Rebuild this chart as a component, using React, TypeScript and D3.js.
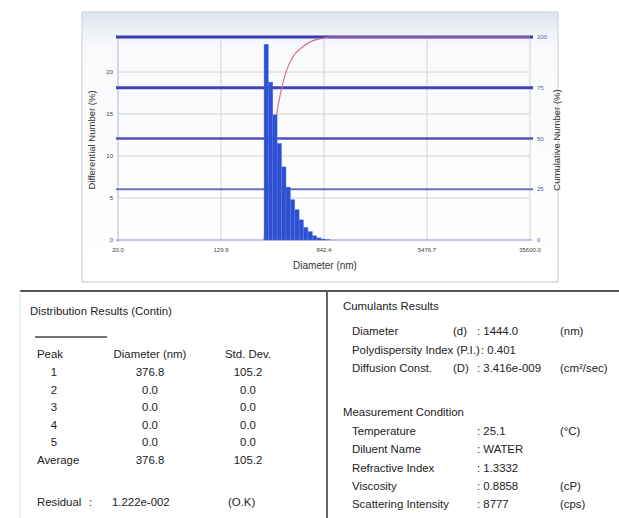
import React from 'react';
import * as d3 from 'd3';

// size distribution bins (left edges, nm) and differential number (%)
const binEdges = [284, 307, 333, 360, 390, 423, 458, 496, 537, 581, 630, 682, 739, 800, 866, 938];
const diffNumber = [23.3, 18.8, 14.9, 11.5, 8.7, 6.3, 4.8, 3.6, 2.4, 1.5, 1.0, 0.5, 0.25, 0.12, 0.05];

// cumulative curve
const cumDiameter = [284, 307, 333, 357, 391, 428, 480, 575, 690, 828, 969, 35600];
const cumNumber = [0, 24, 43, 61.6, 74.7, 83.7, 90.3, 95.2, 98.2, 99.4, 100, 100];

const xTicks = [20, 129.9, 842.4, 5476.7, 35600];
const xTickLabels = ['20.0', '129.9', '842.4', '5476.7', '35600.0'];
const leftTicks = [0, 5, 10, 15, 20];
const rightTicks = [0, 25, 50, 75, 100];

const peaks = ['1', '2', '3', '4', '5', 'Average'];
const peakDiameter = ['376.8', '0.0', '0.0', '0.0', '0.0', '376.8'];
const peakStdDev = ['105.2', '0.0', '0.0', '0.0', '0.0', '105.2'];

const cumulantRows = [
  { label: 'Diameter', sym: '(d)', value: ': 1444.0', unit: '(nm)' },
  { label: 'Polydispersity Index (P.I.)', sym: '', value: ': 0.401', unit: '' },
  { label: 'Diffusion Const.', sym: '(D)', value: ': 3.416e-009', unit: '(cm²/sec)' },
];
const conditionRows = [
  { label: 'Temperature', value: ': 25.1', unit: '(°C)' },
  { label: 'Diluent Name', value: ': WATER', unit: '' },
  { label: 'Refractive Index', value: ': 1.3332', unit: '' },
  { label: 'Viscosity', value: ': 0.8858', unit: '(cP)' },
  { label: 'Scattering Intensity', value: ': 8777', unit: '(cps)' },
];

const W = 619;
const H = 518;
const font = '"Liberation Sans", Arial, sans-serif';

const App = () => {
  const x = d3.scaleLog().domain([20, 35600]).range([118, 530]);
  const yL = d3.scaleLinear().domain([0, 24.17]).range([240, 37]);
  const yR = d3.scaleLinear().domain([0, 100]).range([240, 37]);

  const bars = diffNumber.map((v, i) => ({ x0: binEdges[i], x1: binEdges[i + 1], v }));

  const curve = d3.line<number>()
    .x((_, i) => x(cumDiameter[i]))
    .y(d => yR(d))
    .curve(d3.curveMonotoneX);

  const blueLines = [
    { v: 100, w: 3, c: '#383cae' },
    { v: 75, w: 3, c: '#3f43b3' },
    { v: 50, w: 2.6, c: '#4f52b8' },
    { v: 25, w: 2, c: '#6d6fc4' },
  ];

  const rowY = (i: number) => 376 + i * 17.5;

  return (
    <div style={{ position: 'absolute', left: 0, top: 0 }}>
      <svg width={W} height={H} style={{ display: 'block', background: '#fff' }} fontFamily={font}>
        <defs>
          <linearGradient id="panelBg" x1="0" y1="0" x2="0" y2="1">
            <stop offset="0" stopColor="#dfe5ee" />
            <stop offset="0.12" stopColor="#f7f9fb" />
            <stop offset="1" stopColor="#ffffff" />
          </linearGradient>
        </defs>

        {/* chart panel */}
        <rect x={82} y={12} width={476} height={270} fill="url(#panelBg)" stroke="#c8ccd2" />

        {/* grid */}
        {leftTicks.slice(1).map(t => (
          <line key={'gh' + t} x1={118} x2={530} y1={yL(t)} y2={yL(t)} stroke="#d4d4d4" />
        ))}
        {xTicks.slice(1).map(t => (
          <line key={'gv' + t} x1={x(t)} x2={x(t)} y1={37} y2={240} stroke="#d4d4d4" />
        ))}
        <line x1={118} x2={118} y1={37} y2={242} stroke="#b8b8c8" />
        <line x1={116} x2={532} y1={240} y2={240} stroke="#8c8cc8" />

        {/* cumulative lines */}
        {blueLines.map(b => (
          <line key={'bl' + b.v} x1={116} x2={533} y1={yR(b.v)} y2={yR(b.v)} stroke={b.c} strokeWidth={b.w} />
        ))}

        <path d={curve(cumNumber) || ''} fill="none" stroke="#d8708e" strokeWidth={1.2} />

        {/* bars */}
        {bars.map((b, i) => (
          <rect key={'b' + i} x={x(b.x0)} width={x(b.x1) - x(b.x0)} y={yL(b.v)} height={yL(0) - yL(b.v)}
            fill="#2d50d2" stroke="#5a78e2" strokeWidth={0.4} />
        ))}

        {/* axis labels */}
        {leftTicks.map(t => (
          <text key={'lt' + t} x={113} y={yL(t) + 2} fontSize={6} textAnchor="end" fill="#444">{t}</text>
        ))}
        {rightTicks.map(t => (
          <text key={'rt' + t} x={537} y={yR(t) + 2} fontSize={6} fill="#5555aa">{t}</text>
        ))}
        {xTicks.map((t, i) => (
          <text key={'xt' + t} x={x(t)} y={252} fontSize={6} textAnchor="middle" fill="#444">{xTickLabels[i]}</text>
        ))}
        <text x={325} y={269} fontSize={10} textAnchor="middle" fill="#333">Diameter (nm)</text>
        <text transform="translate(95,140) rotate(-90)" fontSize={9.5} textAnchor="middle" fill="#333">Differential Number (%)</text>
        <text transform="translate(560,140) rotate(-90)" fontSize={9.5} textAnchor="middle" fill="#333">Cumulative Number (%)</text>

        {/* lower panels */}
        <line x1={20} x2={619} y1={291} y2={291} stroke="#555" strokeWidth={2} />
        <line x1={20} x2={20} y1={291} y2={518} stroke="#ddd" />
        <line x1={327} x2={327} y1={291} y2={518} stroke="#666" strokeWidth={2} />

        <g fontSize={11.4} fill="#222">
          <text x={30} y={315}>Distribution Results (Contin)</text>
          <line x1={35} x2={107} y1={337} y2={337} stroke="#444" strokeWidth={1.5} />
          <text x={50} y={358} textAnchor="middle">Peak</text>
          <text x={150} y={358} textAnchor="middle">Diameter (nm)</text>
          <text x={248} y={358} textAnchor="middle">Std. Dev.</text>
          {peaks.map((p, i) => (
            <g key={'pk' + p}>
              <text x={p === 'Average' ? 37 : 54} y={rowY(i)} textAnchor={p === 'Average' ? 'start' : 'middle'}>{p}</text>
              <text x={150} y={rowY(i)} textAnchor="middle">{peakDiameter[i]}</text>
              <text x={248} y={rowY(i)} textAnchor="middle">{peakStdDev[i]}</text>
            </g>
          ))}
          <text x={37} y={506}>Residual</text>
          <text x={89} y={506}>:</text>
          <text x={112} y={506}>1.222e-002</text>
          <text x={228} y={506}>(O.K)</text>

          <text x={343} y={310}>Cumulants Results</text>
          {cumulantRows.map((r, i) => (
            <g key={'cr' + i}>
              <text x={352} y={335 + i * 18.5}>{r.label}</text>
              {r.sym && <text x={453} y={335 + i * 18.5}>{r.sym}</text>}
              <text x={r.sym ? 477 : 481} y={335 + i * 18.5}>{r.value}</text>
              {r.unit && <text x={560} y={335 + i * 18.5}>{r.unit}</text>}
            </g>
          ))}

          <text x={343} y={416}>Measurement Condition</text>
          {conditionRows.map((r, i) => (
            <g key={'mc' + i}>
              <text x={352} y={435 + i * 18.3}>{r.label}</text>
              <text x={477} y={435 + i * 18.3}>{r.value}</text>
              {r.unit && <text x={560} y={435 + i * 18.3}>{r.unit}</text>}
            </g>
          ))}
        </g>
      </svg>
    </div>
  );
};

export default App;
